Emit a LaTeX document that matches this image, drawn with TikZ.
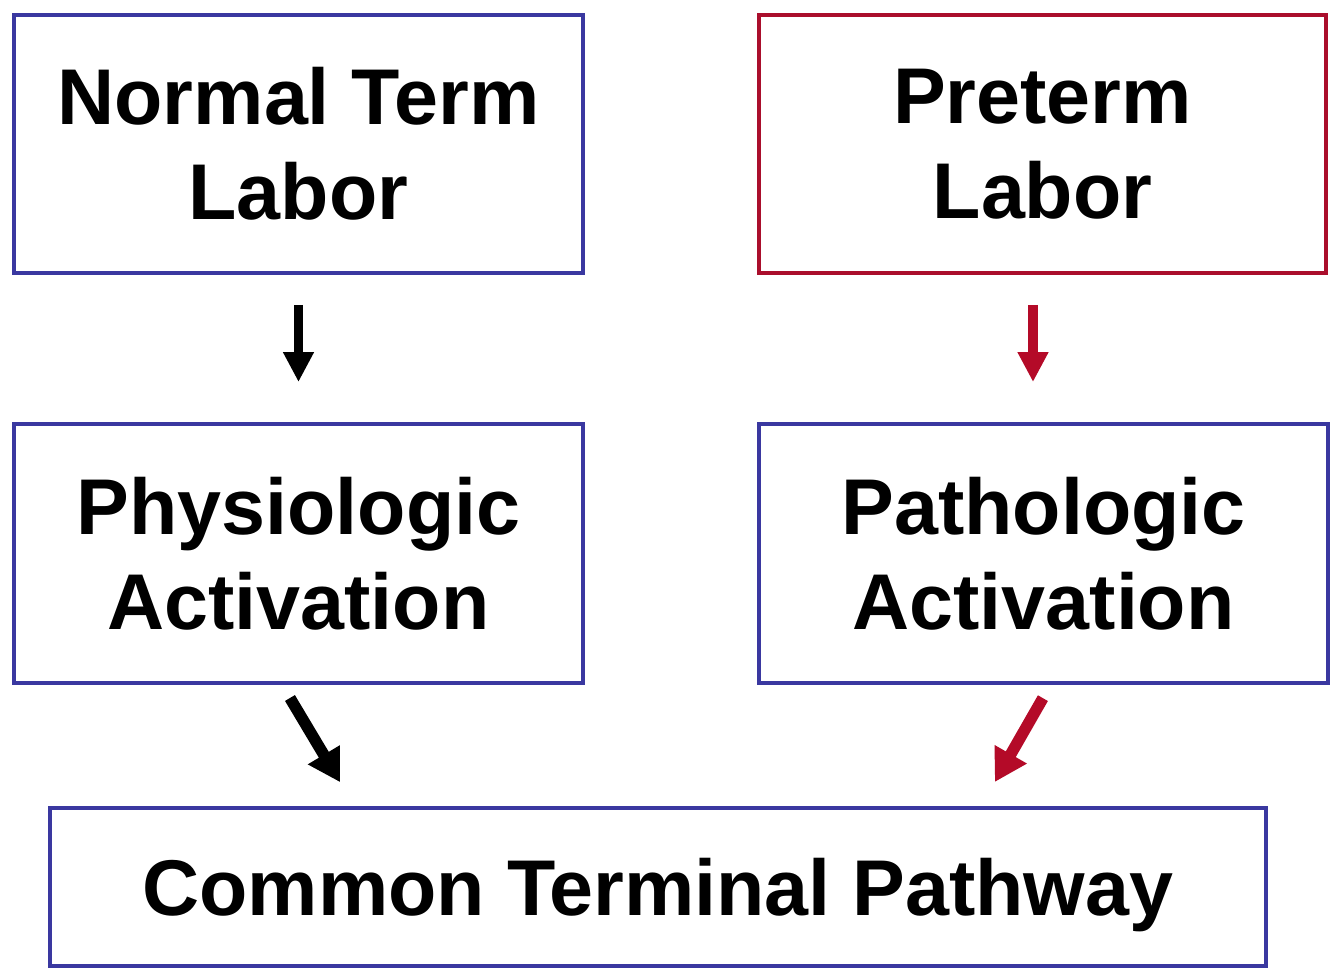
\documentclass[tikz,border=0pt]{standalone}
\usepackage{fontspec}
\setmainfont{Liberation Sans}
\usetikzlibrary{arrows.meta}
\definecolor{boxblue}{RGB}{58,56,160}
\definecolor{boxred}{RGB}{170,14,44}
\definecolor{arrred}{RGB}{180,10,40}
\begin{document}
\begin{tikzpicture}[x=0.02cm,y=-0.02cm,
  box/.style={draw=boxblue,line width=0.08cm,inner sep=0pt,outer sep=0pt,align=center,
    font=\fontsize{45}{54}\selectfont\bfseries},
  arr/.style={line width=0.19cm,-{Triangle[width=0.58cm,length=0.6cm]}},
  darr/.style={line width=0.23cm,-{Triangle[width=0.7cm,length=0.64cm]}},
]
\useasboundingbox[fill=white] (0,0) rectangle (1340,971);
\node[box,minimum width=11.38cm,minimum height=5.16cm] (b1) at (298.5,144) {Normal Term\\Labor};
\node[box,draw=boxred,minimum width=11.34cm,minimum height=5.16cm] (b2) at (1042.5,144) {Preterm\\Labor};
\node[box,minimum width=11.38cm,minimum height=5.18cm] (b3) at (298.5,553.5) {Physiologic\\Activation};
\node[box,minimum width=11.38cm,minimum height=5.18cm] (b4) at (1043.5,553.5) {Pathologic\\Activation};
\node[box,minimum width=24.32cm,minimum height=3.16cm,text depth=0pt] (b5) at (658,887) {Common Terminal Pathway};
\draw[arr,black,shorten <=0.64cm,shorten >=0.84cm] (b1.south) -- (b1.south |- b3.north);
\draw[arr,arrred,shorten <=0.64cm,shorten >=0.84cm] ([xshift=-0.19cm]b2.south) -- ([xshift=-0.19cm]b2.south |- b4.north);
\draw[darr,black,shorten <=0.35cm,shorten >=0.6cm] ([xshift=-0.35cm]b3.south) -- ([xshift=-6.05cm]b5.north);
\draw[darr,arrred,shorten <=0.35cm,shorten >=0.6cm] ([xshift=0.162cm]b4.south) -- ([xshift=6.44cm]b5.north);
\end{tikzpicture}
\end{document}
